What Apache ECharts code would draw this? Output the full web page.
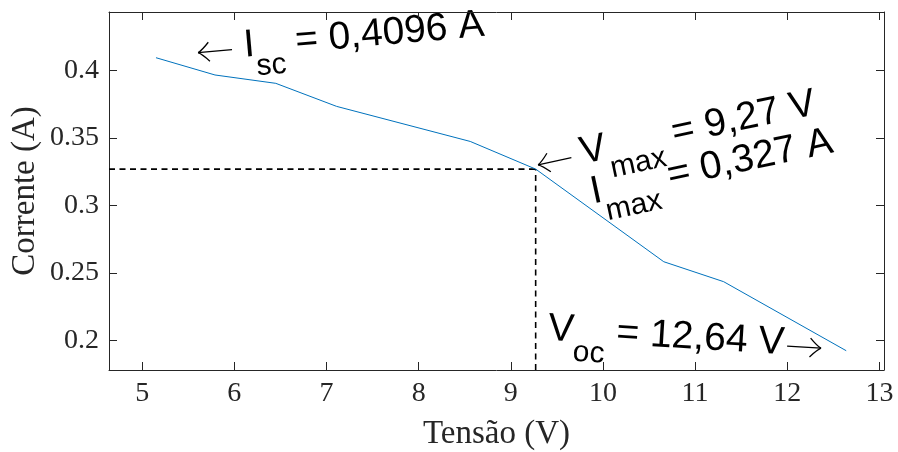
<!DOCTYPE html>
<html><head><meta charset="utf-8">
<script src="https://cdn.jsdelivr.net/npm/echarts@6/dist/echarts.min.js"></script>
<style>html,body{margin:0;padding:0;background:#fff}#c{width:898px;height:452px}</style>
</head><body><div id="c"></div>
<script>
// ---- data ----
const tensao   = [5.15, 5.79, 6.45, 7.11, 8.56, 9.27, 10.66, 11.31, 12.64];
const corrente = [0.4096, 0.3968, 0.3906, 0.3735, 0.3475, 0.327, 0.2583, 0.2435, 0.1923];
const xTicks = [5, 6, 7, 8, 9, 10, 11, 12, 13];
const yTicks = [0.2, 0.25, 0.3, 0.35, 0.4];
const xRange = [4.64, 13.05];
const yRange = [0.178, 0.4435];
const vMax = 9.27, iMax = 0.327;
const xName = 'Tensão (V)', yName = 'Corrente (A)';

const AX = '#262626';
const SERIF = '"Liberation Serif","Times New Roman",serif';
const SANS = '"Liberation Sans",Arial,"DejaVu Sans",sans-serif';
const TICKFS = 28, TITLEFS = 33;

const chart = echarts.init(document.getElementById('c'), null, {renderer: 'canvas'});

function axisCommon(showLabel, ticks) {
  return {
    type: 'value', min: xRange[0], max: xRange[1],
    axisLine: {show: true, onZero: false, lineStyle: {color: AX, width: 1}},
    axisTick: {show: true, inside: true, length: 8, customValues: ticks, lineStyle: {color: AX, width: 1}},
    axisLabel: {show: showLabel, customValues: ticks, fontFamily: SERIF, fontSize: TICKFS, color: AX},
    splitLine: {show: false}
  };
}

const xBottom = Object.assign(axisCommon(true, xTicks), {
  position: 'bottom', name: xName, nameLocation: 'middle', nameGap: 48,
  nameTextStyle: {fontFamily: SERIF, fontSize: TITLEFS, color: AX}
});
xBottom.axisLabel.margin = 10;
const xTop = Object.assign(axisCommon(false, xTicks), {position: 'top'});

const yLeft = Object.assign(axisCommon(true, yTicks), {
  min: yRange[0], max: yRange[1], position: 'left', name: yName, nameLocation: 'middle', nameGap: 67,
  nameMoveOverlap: false,
  nameTextStyle: {fontFamily: SERIF, fontSize: TITLEFS, color: AX}
});
yLeft.axisLabel.margin = 10;
yLeft.axisLabel.formatter = v => String(v);
const yRight = Object.assign(axisCommon(false, yTicks), {min: yRange[0], max: yRange[1], position: 'right'});

chart.setOption({
  animation: false,
  backgroundColor: '#fff',
  grid: {left: 109, right: 14, top: 12, bottom: 82, containLabel: false, outerBoundsMode: 'none'},
  xAxis: [xBottom, xTop],
  yAxis: [yLeft, yRight],
  series: [
    {type: 'line', xAxisIndex: 0, yAxisIndex: 0, data: [[xRange[0], iMax], [vMax, iMax]],
     symbol: 'none', silent: true, lineStyle: {color: '#000', width: 1.6, type: [6, 4.5]}},
    {type: 'line', xAxisIndex: 0, yAxisIndex: 0, data: [[vMax, yRange[0]], [vMax, iMax]],
     symbol: 'none', silent: true, lineStyle: {color: '#000', width: 1.6, type: [6, 4.5]}},
    {type: 'line', xAxisIndex: 0, yAxisIndex: 0, data: tensao.map((v, i) => [v, corrente[i]]),
     symbol: 'none', silent: true, lineStyle: {color: '#0072BD', width: 1}}
  ]
});

// ---- annotations (rotated text, anchored in data coordinates) ----
const MAIN = 39, SUB = 30, SUBDROP = 22, ARROWY = 2.5, ARROWLEN = 34;
const mctx = document.createElement('canvas').getContext('2d');
function tw(t, size) { mctx.font = size + 'px ' + SANS; return mctx.measureText(t).width; }

function arrowEls(x, y0, dir) {
  // TeX-like arrow: shaft plus curved open head; dir = -1 points left, +1 points right
  const tip = dir < 0 ? x : x + ARROWLEN;
  const tail = dir < 0 ? x + ARROWLEN : x;
  const hx = tip - dir * 11;
  const cx = tip - dir * 4;
  const y = y0 + ARROWY;
  const st = {stroke: '#000', fill: null, lineWidth: 1.3};
  return [
    {type: 'line', shape: {x1: tail, y1: y, x2: tip, y2: y}, style: st},
    {type: 'bezierCurve', shape: {x1: hx, y1: y - 9.5, cpx1: cx, cpy1: y - 2, x2: tip, y2: y}, style: st},
    {type: 'bezierCurve', shape: {x1: hx, y1: y + 9.5, cpx1: cx, cpy1: y + 2, x2: tip, y2: y}, style: st}
  ];
}

function buildLabel(anchor, rotDeg, lines) {
  const p = chart.convertToPixel({xAxisIndex: 0, yAxisIndex: 0}, anchor);
  const children = [];
  lines.forEach(line => {
    let x = line.dx || 0;
    const y0 = line.dy || 0;
    line.parts.forEach(part => {
      x += part.pre || 0;
      if (part.arrow) {
        arrowEls(x, y0, part.arrow).forEach(e => children.push(e));
        x += ARROWLEN + (part.gap || 0);
        return;
      }
      const size = part.sub ? SUB : MAIN;
      children.push({type: 'text', x: x, y: y0 + (part.sub ? SUBDROP : 0),
        style: {text: part.t, fontFamily: SANS, fontSize: size, fill: '#000', align: 'left', verticalAlign: 'middle'}});
      x += tw(part.t, size);
    });
  });
  return {type: 'group', x: p[0], y: p[1], rotation: rotDeg * Math.PI / 180, silent: true, children: children};
}

chart.setOption({
  graphic: [
    buildLabel([5.605, 0.4152], 5, [
      {parts: [{arrow: -1, gap: 12}, {t: 'I'}, {t: 'sc', sub: true}, {t: ' = 0,4096 A'}]}
    ]),
    buildLabel([9.291, 0.3320], 12, [
      {parts: [{arrow: -1, gap: 10}, {t: 'V'}, {t: 'max', sub: true}, {t: ' = 9,27 V'}]},
      {dx: 46, dy: 41, parts: [{t: 'I'}, {t: 'max', sub: true}, {t: ' = 0,327 A'}]}
    ]),
    buildLabel([9.405, 0.2084], -3.5, [
      {parts: [{t: 'V'}, {t: 'oc', sub: true}, {t: ' = 12,64 V'}, {arrow: 1, pre: 3}]}
    ])
  ]
});
</script>
</body></html>
